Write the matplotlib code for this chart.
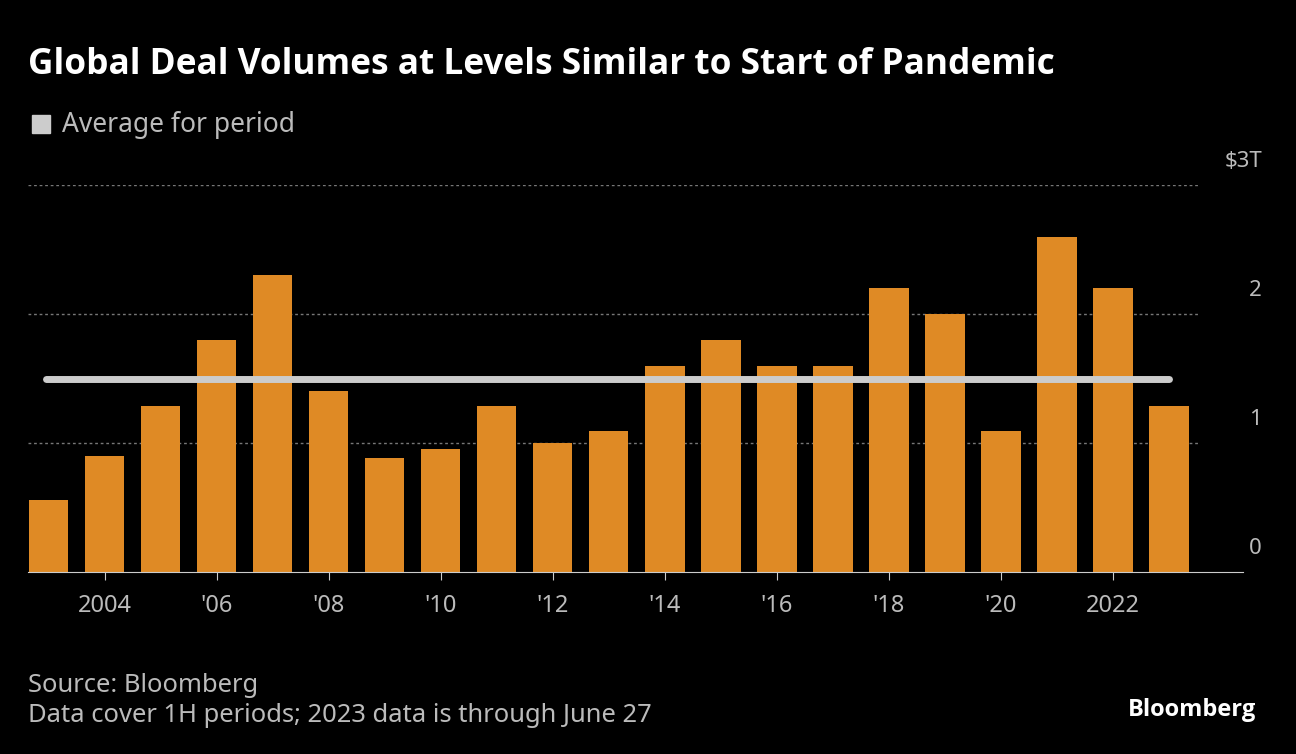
import matplotlib.pyplot as plt
from matplotlib.patches import Rectangle

plt.rcParams['font.family'] = ['Noto Sans', 'DejaVu Sans']

years = list(range(2003, 2024))
volumes = [0.56, 0.90, 1.29, 1.80, 2.30, 1.40, 0.88, 0.95, 1.29, 1.00, 1.09,
           1.60, 1.80, 1.60, 1.60, 2.20, 2.00, 1.09, 2.60, 2.20, 1.29]
average = 1.50
tick_years = [2004, 2006, 2008, 2010, 2012, 2014, 2016, 2018, 2020, 2022]
tick_labels = ['2004', "'06", "'08", "'10", "'12", "'14", "'16", "'18", "'20", '2022']

W, H = 1296, 754
fig = plt.figure(figsize=(W / 100, H / 100), dpi=100, facecolor='black')
ax = fig.add_axes([28 / W, 1 - 572 / H, (1243 - 28) / W, (572 - 185) / H])
ax.set_facecolor('black')

ax.bar(years, volumes, width=0.7, color='#df8a25', zorder=2)
ax.plot([years[0] - 0.05, years[-1]], [average, average], color='#cccccc', lw=5,
        solid_capstyle='round', zorder=3)

for v in [1, 2, 3]:
    ax.plot([2002.63, 2023.55], [v, v], color='#777777', lw=1, ls=(0, (2, 2)), zorder=1)
for v, lab in zip([0, 1, 2, 3], ['0', '1', '2', '$3T']):
    ax.text(2024.3, v + 0.1, lab, color='#bbbbbb', fontsize=16, ha='right', va='bottom',
            transform=ax.transData + __import__('matplotlib').transforms.ScaledTranslation(0.2, 0, fig.dpi_scale_trans))

ax.set_xlim(2002.63, 2024.32)
ax.set_ylim(0, 3)
for s in ['top', 'right', 'left']:
    ax.spines[s].set_visible(False)
ax.spines['bottom'].set_color('#cccccc')
ax.set_yticks([])
ax.set_xticks(tick_years)
ax.set_xticklabels(tick_labels, color='#bbbbbb', fontsize=17)
ax.tick_params(axis='x', color='#cccccc', length=6, pad=10)

fig.text(28 / W, 1 - 65 / H, 'Global Deal Volumes at Levels Similar to Start of Pandemic',
         color='white', fontsize=25.4, fontweight='bold', va='center', family='Open Sans')
fig.patches.append(Rectangle((32 / W, 1 - 133 / H), 18 / W, 18 / H, transform=fig.transFigure,
                             color='#cccccc'))
fig.text(62 / W, 1 - 125 / H, 'Average for period', color='#bbbbbb', fontsize=19, va='center')
fig.text(28 / W, 1 - 686 / H, 'Source: Bloomberg', color='#bbbbbb', fontsize=18.4, va='center')
fig.text(28 / W, 1 - 715 / H, 'Data cover 1H periods; 2023 data is through June 27',
         color='#bbbbbb', fontsize=18.4, va='center')
fig.text(1256 / W, 1 - 710 / H, 'Bloomberg', color='white', fontsize=17, fontweight='bold',
         ha='right', va='center', family='Open Sans')

fig.savefig('out.png', dpi=100, facecolor='black')
